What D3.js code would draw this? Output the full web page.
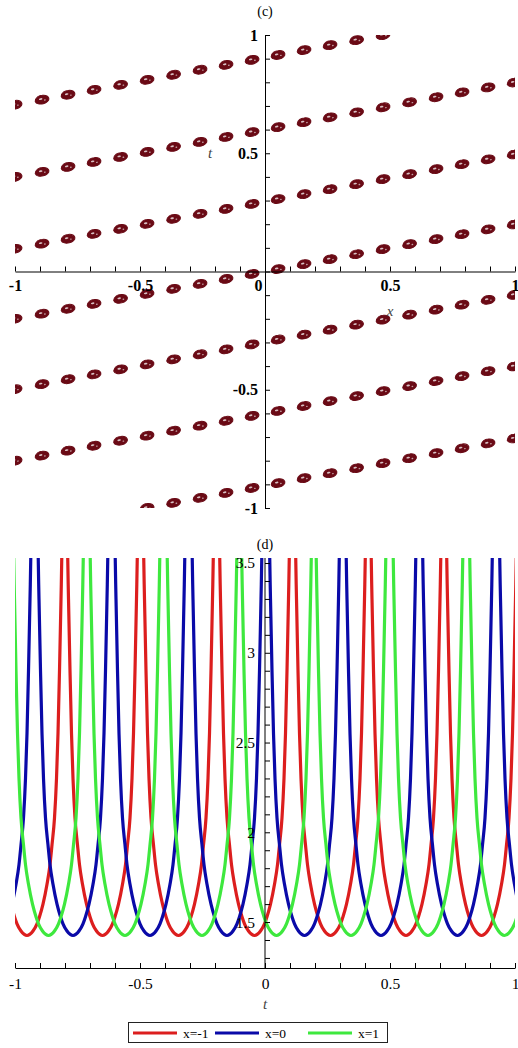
<!DOCTYPE html>
<html>
<head>
<meta charset="utf-8">
<script src="https://cdn.jsdelivr.net/npm/d3@7"></script>
<style>
  body { margin: 0; background: #fff; }
  svg { display: block; }
  text { font-family: "Liberation Serif", "Times New Roman", serif; }
</style>
</head>
<body>
<svg id="chart" width="518" height="1048"></svg>
<script>
// ---- panel (c): contour blobs sitting on slanted rows ----
const rowIntercepts = [0.905, 0.6, 0.296, 0, -0.298, -0.6, -0.905]; // t at x = 0
const rowSlope = 0.2;
const blobX = [-1, -0.892, -0.788, -0.684, -0.578, -0.472, -0.366, -0.26, -0.156, -0.052,
               0.052, 0.156, 0.26, 0.366, 0.472, 0.578, 0.684, 0.788, 0.892, 0.996];
const cXTicks = [-1, -0.5, 0, 0.5, 1];
const cYTicks = [-1, -0.5, 0.5, 1];

// ---- panel (d): three periodic curves ----
const seriesNames = ['x=-1', 'x=0', 'x=1'];
const seriesColors = ['#dc1e1e', '#0a0aa8', '#3ee83e'];
// t positions of the minima (one extra past each end)
const minimaRed = [-1.256, -0.952, -0.65, -0.346, -0.042, 0.262, 0.564, 0.866, 1.17];
const minimaBlue = [-1.076, -0.768, -0.46, -0.152, 0.158, 0.464, 0.77, 1.078];
const minimaGreen = [-1.17, -0.866, -0.56, -0.252, 0.046, 0.344, 0.652, 0.958, 1.26];
// one half-period of the curve (t distance from a trough -> value)
const profileDt = [0, 0.024, 0.04, 0.05, 0.064, 0.08, 0.092, 0.1, 0.11, 0.118, 0.124, 0.13, 0.136, 0.14, 0.146, 0.15];
const profileY  = [1.425, 1.45, 1.49, 1.53, 1.6, 1.71, 1.82, 1.93, 2.08, 2.3, 2.55, 2.9, 3.3, 3.6, 4.5, 6];
const dXTicks = [-1, -0.5, 0, 0.5, 1];
const dYTicks = [1.5, 2, 2.5, 3, 3.5];

const svg = d3.select('#chart');
const fmt = d => String(d);
const minorTicks = (a, b) => d3.range(Math.round(a * 10), Math.round(b * 10) + 1).map(v => v / 10);
const isMajor = (list, d) => list.some(v => Math.abs(v - d) < 1e-9);

// ================= panel (c) =================
const xc = d3.scaleLinear().domain([-1, 1]).range([15, 515]);
const yc = d3.scaleLinear().domain([-1, 1]).range([508, 35]);

svg.append('text').attr('x', 265).attr('y', 16).attr('text-anchor', 'middle')
  .attr('font-size', 14).text('(c)');

svg.append('clipPath').attr('id', 'clipC')
  .append('rect').attr('x', 15).attr('y', 35).attr('width', 500).attr('height', 473);

const blobs = [];
rowIntercepts.forEach(c => blobX.forEach(x => blobs.push({ x, t: rowSlope * x + c })));

const angle = -Math.atan(rowSlope * (yc(0) - yc(1)) / (xc(1) - xc(0))) * 180 / Math.PI;
const gBlobs = svg.append('g').attr('clip-path', 'url(#clipC)');
const blob = gBlobs.selectAll('g').data(blobs).join('g')
  .attr('transform', d => `translate(${xc(d.x)},${yc(d.t)}) rotate(${angle})`);
blob.append('path')
  .attr('d', 'M-7,0.5 C-6,-3.5 -2,-4.6 1,-4.2 C4,-4 6.5,-2.5 7,-0.2 C7.2,2.2 4,4 0.5,4.2 C-3,4.4 -6.5,3 -7,0.5 Z')
  .attr('fill', '#6a0a15').attr('stroke', '#6a0a15').attr('stroke-width', 1);
blob.append('ellipse').attr('cx', -1.2).attr('cy', -0.8).attr('rx', 1.8).attr('ry', 0.9)
  .attr('fill', '#fff').attr('opacity', 0.75);
blob.append('ellipse').attr('cx', 2.8).attr('cy', 0.9).attr('rx', 0.9).attr('ry', 0.7)
  .attr('fill', '#fff').attr('opacity', 0.6);

// axes through the origin
const cxAxis = svg.append('g').attr('transform', `translate(0,${yc(0)})`)
  .call(d3.axisBottom(xc).tickValues(minorTicks(-1, 1)).tickSize(-5).tickSizeOuter(0).tickPadding(8)
    .tickFormat(d => isMajor(cXTicks, d) ? fmt(d) : ''));
cxAxis.selectAll('text').attr('font-size', 16).attr('font-weight', 'bold').attr('fill', '#000');
cxAxis.selectAll('.tick').filter(d => Math.abs(d) < 1e-9).select('text').attr('dx', -7);

const cyAxis = svg.append('g').attr('transform', `translate(${xc(0)},0)`)
  .call(d3.axisLeft(yc).tickValues(minorTicks(-1, 1)).tickSize(-5).tickSizeOuter(0).tickPadding(7)
    .tickFormat(d => isMajor(cYTicks, d) ? fmt(d) : ''));
cyAxis.selectAll('text').attr('font-size', 16).attr('font-weight', 'bold').attr('fill', '#000');

svg.append('text').attr('x', 390).attr('y', 316).attr('text-anchor', 'middle')
  .attr('font-size', 15).attr('font-style', 'italic').attr('fill', '#444').text('x');
svg.append('text').attr('x', 210).attr('y', 158).attr('text-anchor', 'middle')
  .attr('font-size', 15).attr('font-style', 'italic').attr('fill', '#444').text('t');

// ================= panel (d) =================
const xd = d3.scaleLinear().domain([-1, 1]).range([15, 515]);
const yd = d3.scaleLinear().domain([1.244, 3.528]).range([968, 558]);

svg.append('text').attr('x', 265).attr('y', 549).attr('text-anchor', 'middle')
  .attr('font-size', 14).text('(d)');

svg.append('clipPath').attr('id', 'clipD')
  .append('rect').attr('x', 15).attr('y', 558).attr('width', 500).attr('height', 410);

function buildPoints(minima) {
  const pts = [];
  for (let i = 0; i < minima.length - 1; i++) {
    const m0 = minima[i], m1 = minima[i + 1];
    profileDt.forEach((d, j) => { if (i === 0 || j > 0) pts.push([m0 + d, profileY[j]]); });
    for (let j = profileDt.length - 1; j >= 0; j--) pts.push([m1 - profileDt[j], profileY[j]]);
  }
  return pts;
}

const seriesPoints = [minimaRed, minimaBlue, minimaGreen].map(buildPoints);
const line = d3.line().x(d => xd(d[0])).y(d => yd(d[1])).curve(d3.curveMonotoneX);

svg.append('g').attr('clip-path', 'url(#clipD)')
  .selectAll('path').data(seriesPoints).join('path')
  .attr('d', line).attr('fill', 'none')
  .attr('stroke', (_, i) => seriesColors[i]).attr('stroke-width', 3.2);

const dxAxis = svg.append('g').attr('transform', `translate(0,968)`)
  .call(d3.axisBottom(xd).tickValues(minorTicks(-1, 1)).tickSize(-5).tickSizeOuter(0).tickPadding(10)
    .tickFormat(d => isMajor(dXTicks, d) ? fmt(d) : ''));
dxAxis.selectAll('text').attr('font-size', 15.5).attr('fill', '#000');

const dyAxis = svg.append('g').attr('transform', `translate(${xd(0)},0)`)
  .call(d3.axisLeft(yd).tickValues(minorTicks(1.3, 3.5)).tickSize(-5).tickSizeOuter(0).tickPadding(10)
    .tickFormat(d => isMajor(dYTicks, d) ? String(d) : ''));
dyAxis.selectAll('text').attr('font-size', 15.5).attr('fill', '#000');
dyAxis.select('.domain').attr('d', `M0,${yd(3.528)}V968`);

svg.append('text').attr('x', 265).attr('y', 1009).attr('text-anchor', 'middle')
  .attr('font-size', 15).attr('font-style', 'italic').attr('fill', '#444').text('t');

// legend
const legend = svg.append('g');
legend.append('rect').attr('x', 128.5).attr('y', 1022.5).attr('width', 259).attr('height', 20)
  .attr('fill', '#fff').attr('stroke', '#222').attr('stroke-width', 1);
const legendX = [133, 215, 308];
seriesNames.forEach((name, i) => {
  legend.append('line').attr('x1', legendX[i]).attr('x2', legendX[i] + 44)
    .attr('y1', 1033).attr('y2', 1033)
    .attr('stroke', seriesColors[i]).attr('stroke-width', 3.2);
  legend.append('text').attr('x', legendX[i] + 50).attr('y', 1037.5)
    .attr('font-size', 13.5).text(name);
});
</script>
</body>
</html>
